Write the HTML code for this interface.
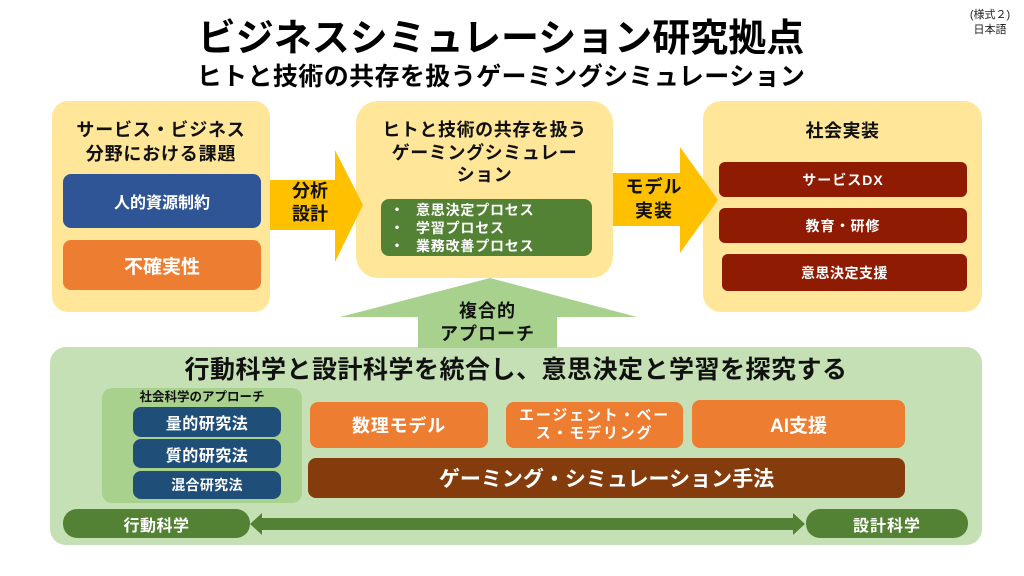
<!DOCTYPE html>
<html><head><meta charset="utf-8">
<style>
*{margin:0;padding:0;box-sizing:border-box}
html,body{width:1024px;height:576px;background:#fff;overflow:hidden}
body{position:relative;font-family:"Liberation Sans","Noto Sans CJK JP",sans-serif;color:#111}
.a{position:absolute}
.b{position:absolute;display:flex;align-items:center;justify-content:center;text-align:center;font-weight:bold}
.w{color:#fff}
.t{position:absolute;text-align:center;font-weight:bold;white-space:nowrap}
svg{position:absolute;left:0;top:0}
</style></head><body>

<!-- header -->
<div class="t" style="left:-11px;width:1024px;top:16px;font-size:38px;line-height:46px;color:#000">ビジネスシミュレーション研究拠点</div>
<div class="t" style="left:-11px;width:1024px;top:62px;font-size:25px;line-height:30px;letter-spacing:0.4px;color:#000">ヒトと技術の共存を扱うゲーミングシミュレーション</div>
<div class="t" style="left:960px;width:60px;top:8px;font-size:11px;line-height:14px;font-weight:normal;color:#222">(様式２)</div>
<div class="t" style="left:960px;width:60px;top:23px;font-size:11px;line-height:14px;font-weight:normal;color:#222">日本語</div>

<!-- top boxes -->
<div class="a" style="left:52px;top:101px;width:218px;height:211px;border-radius:16px;background:#FFE699"></div>
<div class="a" style="left:356px;top:101px;width:257px;height:177px;border-radius:22px;background:#FFE699"></div>
<div class="a" style="left:703px;top:101px;width:279px;height:211px;border-radius:18px;background:#FFE699"></div>

<!-- bottom box -->
<div class="a" style="left:50px;top:347px;width:932px;height:198px;border-radius:16px;background:#C5E0B4"></div>

<svg width="1024" height="576" viewBox="0 0 1024 576">
  <polygon points="270,180 335,180 335,150 363,205 335,262 335,230 270,230" fill="#FFC000"/>
  <polygon points="613,173 680,173 680,147 718,200 680,253 680,226 613,226" fill="#FFC000"/>
  <polygon points="340,317 490,278 637,317 557,317 557,348 418,348 418,317" fill="#A9D18E"/>
  <polygon points="262,518 793,518 793,513 805,524 793,535 793,530 262,530 262,535 250,524 262,513" fill="#548235"/>
</svg>

<!-- left box content -->
<div class="t" style="left:52px;width:218px;top:119px;font-size:18px;line-height:23.5px;letter-spacing:0.8px">サービス・ビジネス<br>分野における課題</div>
<div class="b w" style="left:63px;top:174px;width:198px;height:54px;border-radius:8px;background:#2F5597;font-size:16px">人的資源制約</div>
<div class="b w" style="left:63px;top:240px;width:198px;height:50px;border-radius:8px;background:#ED7D31;font-size:19px">不確実性</div>

<!-- arrow labels -->
<div class="t" style="left:280px;width:60px;top:180px;font-size:18px;line-height:23px">分析<br>設計</div>
<div class="t" style="left:618px;width:72px;top:175px;font-size:18px;line-height:24px;letter-spacing:1px">モデル<br>実装</div>

<!-- middle box content -->
<div class="t" style="left:356px;width:257px;top:119px;font-size:18px;line-height:22.5px;letter-spacing:0.6px">ヒトと技術の共存を扱う<br>ゲーミングシミュレー<br>ション</div>
<div class="a" style="left:381px;top:199px;width:211px;height:57px;border-radius:8px;background:#548235"></div>
<div class="a w" style="left:390px;top:201px;font-size:14px;line-height:18px;font-weight:bold;white-space:nowrap;letter-spacing:0.8px">
<div><span style="display:inline-block;width:26px">・</span>意思決定プロセス</div>
<div><span style="display:inline-block;width:26px">・</span>学習プロセス</div>
<div><span style="display:inline-block;width:26px">・</span>業務改善プロセス</div>
</div>

<!-- right box content -->
<div class="t" style="left:703px;width:279px;top:119px;font-size:18px;line-height:24px;letter-spacing:0.5px">社会実装</div>
<div class="b w" style="left:719px;top:162px;width:248px;height:35px;border-radius:6px;background:#8F1B02;font-size:14px;letter-spacing:1px">サービスDX</div>
<div class="b w" style="left:719px;top:208px;width:248px;height:35px;border-radius:6px;background:#8F1B02;font-size:14px;letter-spacing:1px">教育・研修</div>
<div class="b w" style="left:722px;top:254px;width:245px;height:37px;border-radius:6px;background:#8F1B02;font-size:14px;letter-spacing:0.5px">意思決定支援</div>

<!-- up arrow label -->
<div class="t" style="left:418px;width:139px;top:300px;font-size:18px;line-height:23px;letter-spacing:1px">複合的<br>アプローチ</div>

<!-- bottom content -->
<div class="t" style="left:50px;width:932px;top:355px;font-size:25px;line-height:30px;letter-spacing:0.5px">行動科学と設計科学を統合し、意思決定と学習を探究する</div>

<div class="a" style="left:102px;top:388px;width:200px;height:115px;border-radius:10px;background:#A9D18E"></div>
<div class="t" style="left:102px;width:200px;top:389px;font-size:12.5px;line-height:16px">社会科学のアプローチ</div>
<div class="b w" style="left:133px;top:407px;width:148px;height:30px;border-radius:8px;background:#1F4E79;font-size:16px;letter-spacing:0.5px">量的研究法</div>
<div class="b w" style="left:133px;top:439px;width:148px;height:29px;border-radius:8px;background:#1F4E79;font-size:16px;letter-spacing:0.5px">質的研究法</div>
<div class="b w" style="left:133px;top:471px;width:148px;height:28px;border-radius:8px;background:#1F4E79;font-size:14px;letter-spacing:0.3px">混合研究法</div>

<div class="b w" style="left:310px;top:402px;width:178px;height:46px;border-radius:8px;background:#ED7D31;font-size:18px;letter-spacing:0.8px">数理モデル</div>
<div class="b w" style="left:506px;top:402px;width:177px;height:46px;border-radius:8px;background:#ED7D31;font-size:15px;line-height:18px;letter-spacing:1.8px">エージェント・ベー<br>ス・モデリング</div>
<div class="b w" style="left:692px;top:400px;width:213px;height:48px;border-radius:8px;background:#ED7D31;font-size:19px">AI支援</div>

<div class="b w" style="left:308px;top:458px;width:597px;height:40px;border-radius:8px;background:#843C0C;font-size:21px">ゲーミング・シミュレーション手法</div>

<div class="b w" style="left:63px;top:509px;width:187px;height:29px;border-radius:14px;background:#548235;font-size:16px;letter-spacing:0.5px">行動科学</div>
<div class="b w" style="left:806px;top:509px;width:162px;height:29px;border-radius:14px;background:#548235;font-size:16px;letter-spacing:1px">設計科学</div>

</body></html>
